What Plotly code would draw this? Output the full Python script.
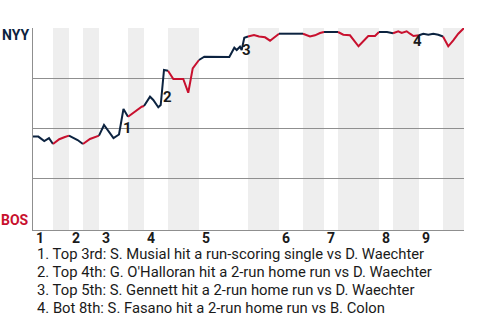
import plotly.graph_objects as go

# ---- data ----
event_x = [0, 1.06, 2.25, 3.19, 3.99, 5.24, 6.24, 7.18, 8.9, 9.97, 11.37, 13.17,
           14.17, 16.06, 17.16, 18.05, 18.96, 20.35, 21.69, 22.15, 23.35, 24.0, 25.0,
           25.48, 26.14, 26.94, 28.0, 29.98, 30.98, 31.87, 33.12, 34.18, 39.17, 40.17,
           40.65, 41.3, 41.64, 42.16, 42.9, 44.1, 45.1, 46.3, 47.3, 49.09, 53.87, 55.27,
           56.27, 57.27, 58.07, 60.86, 61.92, 63.25, 64.95, 66.9, 68.24, 69.04, 70.64,
           71.83, 72.89, 73.56, 74.56, 75.22, 75.92, 77.02, 77.88, 78.88, 79.87, 80.87,
           81.81, 82.86, 83.86, 84.86, 86]
nyy_wp = [0.457, 0.457, 0.435, 0.449, 0.42, 0.444, 0.454, 0.462, 0.44, 0.42, 0.445, 0.462,
          0.515, 0.449, 0.4675, 0.595, 0.5565, 0.5815, 0.6065, 0.61, 0.6565, 0.64, 0.6035,
          0.615, 0.79, 0.7865, 0.745, 0.745, 0.6765, 0.7985, 0.84, 0.8565, 0.855, 0.9015,
          0.89, 0.9065, 0.89, 0.9515, 0.9575, 0.965, 0.9575, 0.9535, 0.9365, 0.9715, 0.9715,
          0.9575, 0.9635, 0.975, 0.98, 0.98, 0.9665, 0.9635, 0.9085, 0.96, 0.96, 0.98, 0.98,
          0.9735, 0.9835, 0.975, 0.9835, 0.9715, 0.96, 0.9635, 0.9715, 0.9665, 0.9715,
          0.9665, 0.9575, 0.9085, 0.9385, 0.9715, 1.0]
half_starts = [0, 3.99, 7.18, 9.97, 13.17, 18.96, 22.15, 26.94, 33.12, 42.9, 49.09,
               53.87, 58.07, 60.86, 69.04, 71.83, 77.02, 81.81, 86]
inning_labels = ["1", "2", "3", "4", "5", "6", "7", "8", "9"]

event_marks = ["1", "2", "3", "4"]
event_mark_x = [18.76, 26.8, 42.6, 76.68]
event_mark_y = [0.5, 0.6565, 0.89, 0.935]
event_texts = [
    "1. Top 3rd: S. Musial hit a run-scoring single vs D. Waechter",
    "2. Top 4th: G. O'Halloran hit a 2-run home run vs D. Waechter",
    "3. Top 5th: S. Gennett hit a 2-run home run vs D. Waechter",
    "4. Bot 8th: S. Fasano hit a 2-run home run vs B. Colon",
]

NAVY = "#0C2340"
RED = "#C8102E"
GRID = "#8f8f8f"
TEXT = "#1a1a1a"
FONT = "Roboto"

fig = go.Figure()

# line segments per half inning, coloured by batting team
for k in range(len(half_starts) - 1):
    a, b = half_starts[k], half_starts[k + 1]
    xs = [x for x in event_x if a <= x <= b]
    ys = [y for x, y in zip(event_x, nyy_wp) if a <= x <= b]
    fig.add_trace(go.Scatter(x=xs, y=ys, mode="lines",
                             line=dict(color=NAVY if k % 2 == 0 else RED, width=2),
                             hoverinfo="skip", showlegend=False))

# shaded bottom halves
shapes = []
for k in range(1, len(half_starts) - 1, 2):
    shapes.append(dict(type="rect", xref="x", yref="paper",
                       x0=half_starts[k], x1=half_starts[k + 1], y0=0, y1=1,
                       fillcolor="#eeeeee", line=dict(width=0), layer="below"))

annotations = []
for lbl, x in zip(inning_labels, half_starts[0::2]):
    annotations.append(dict(x=x, y=0, xref="x", yref="paper", text=lbl,
                            showarrow=False, xanchor="left", yanchor="middle",
                            xshift=1, yshift=-8,
                            font=dict(family=FONT, size=14, color=TEXT, weight="bold")))
for m, x, y in zip(event_marks, event_mark_x, event_mark_y):
    annotations.append(dict(x=x, y=y, xref="x", yref="y", text=m, showarrow=False,
                            xanchor="center", yanchor="middle",
                            font=dict(family=FONT, size=15, color=TEXT, weight="bold")))
for i, t in enumerate(event_texts):
    annotations.append(dict(x=0, y=0, xref="paper", yref="paper", text=t,
                            showarrow=False, xanchor="left", yanchor="middle",
                            xshift=2, yshift=-24 - 18 * i,
                            font=dict(family=FONT, size=14.8, color=TEXT)))
annotations.append(dict(x=0, y=0.965, xref="paper", yref="y", text="NYY", showarrow=False,
                        xanchor="right", yanchor="middle", xshift=-2,
                        font=dict(family=FONT, size=14, color=NAVY, weight="bold")))
annotations.append(dict(x=0, y=0.04, xref="paper", yref="y", text="BOS", showarrow=False,
                        xanchor="right", yanchor="middle", xshift=-2,
                        font=dict(family=FONT, size=14, color=RED, weight="bold")))

fig.update_layout(
    width=480, height=320,
    margin=dict(l=33, r=16, t=28, b=90),
    paper_bgcolor="white", plot_bgcolor="white",
    shapes=shapes, annotations=annotations,
    xaxis=dict(range=[0, 86], showgrid=False, zeroline=False, showline=True,
               linecolor=GRID, linewidth=1, showticklabels=False, ticks="",
               fixedrange=True),
    yaxis=dict(range=[-0.01, 1.0], tickvals=[0.25, 0.5, 0.75, 1.0], showgrid=True,
               gridcolor=GRID, gridwidth=1, zeroline=False, showline=True,
               linecolor=GRID, linewidth=1, showticklabels=False, ticks="",
               fixedrange=True),
    font=dict(family=FONT),
)

fig.write_html("out.html")
